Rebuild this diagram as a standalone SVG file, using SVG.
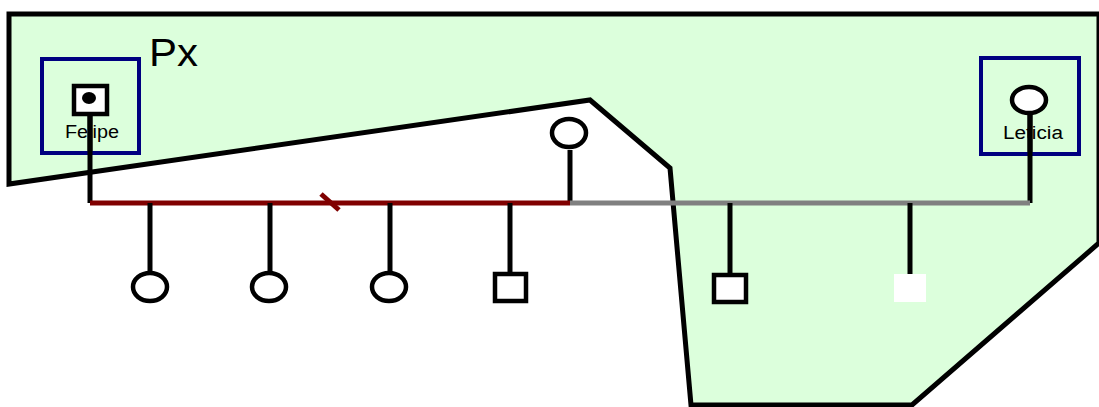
<svg xmlns="http://www.w3.org/2000/svg" width="1099" height="407" viewBox="0 0 1099 407">
<style>
.ln{stroke:#000;stroke-width:5;fill:none}
.sym{stroke:#000;stroke-width:4.5;fill:#fff}
.box{stroke:#000080;stroke-width:4;fill:none}
.lbl{font-family:"Liberation Sans",Arial,sans-serif;font-size:18px;fill:#000}
</style>
<rect width="1099" height="407" fill="#fff"/>
<polygon id="region" points="9,14 1099,14 1099,243 912,405 691,405 670,168 590,100 9,184" fill="#dcffdc" stroke="#000" stroke-width="5" stroke-linejoin="miter"/>
<text x="149" y="66" font-family="Liberation Sans,Arial,sans-serif" font-size="38" fill="#000" textLength="49" lengthAdjust="spacingAndGlyphs">Px</text>
<g id="connectors">
<line x1="90" y1="112" x2="90" y2="203" class="ln"/>
<line x1="1030" y1="115" x2="1030" y2="203" class="ln"/>
<line x1="570" y1="150" x2="570" y2="203" class="ln"/>
<line x1="90" y1="203" x2="570" y2="203" stroke="#800000" stroke-width="5"/>
<line x1="570" y1="203" x2="1030" y2="203" stroke="#808080" stroke-width="5"/>
<line x1="321" y1="194" x2="339" y2="210" stroke="#800000" stroke-width="5"/>
<line x1="150" y1="203" x2="150" y2="273" class="ln"/>
<line x1="270" y1="203" x2="270" y2="273" class="ln"/>
<line x1="390" y1="203" x2="390" y2="273" class="ln"/>
<line x1="510" y1="203" x2="510" y2="274" class="ln"/>
<line x1="730" y1="203" x2="730" y2="274" class="ln"/>
<line x1="910" y1="203" x2="910" y2="274" class="ln"/>
</g>
<g id="felipe">
<rect x="42" y="59" width="97" height="94" class="box"/>
<rect x="74" y="86" width="33" height="28" class="sym"/>
<ellipse cx="89" cy="98" rx="7" ry="6" fill="#000"/>
<text x="65" y="138" class="lbl" textLength="54" lengthAdjust="spacingAndGlyphs">Felipe</text>
<line x1="90" y1="114" x2="90" y2="155" class="ln"/>
</g>
<g id="leticia">
<rect x="981" y="58" width="98" height="96" class="box"/>
<text x="1003" y="139" class="lbl" textLength="60" lengthAdjust="spacingAndGlyphs">Leticia</text>
<ellipse cx="1029" cy="100" rx="17" ry="13" class="sym"/>
<line x1="1030" y1="113" x2="1030" y2="156" class="ln"/>
</g>
<g id="mother">
<ellipse cx="569" cy="133" rx="17" ry="14" class="sym"/>
</g>
<g id="c1"><ellipse cx="150" cy="287" rx="17" ry="14" class="sym"/></g>
<g id="c2"><ellipse cx="269" cy="287" rx="17" ry="14" class="sym"/></g>
<g id="c3"><ellipse cx="389" cy="287" rx="17" ry="14" class="sym"/></g>
<g id="c4"><rect x="495" y="274" width="31" height="27" class="sym"/></g>
<g id="c5"><rect x="714" y="275" width="32" height="27" class="sym"/></g>
<g id="c6"><rect x="894" y="274" width="32" height="28" fill="#fff"/></g>
</svg>
